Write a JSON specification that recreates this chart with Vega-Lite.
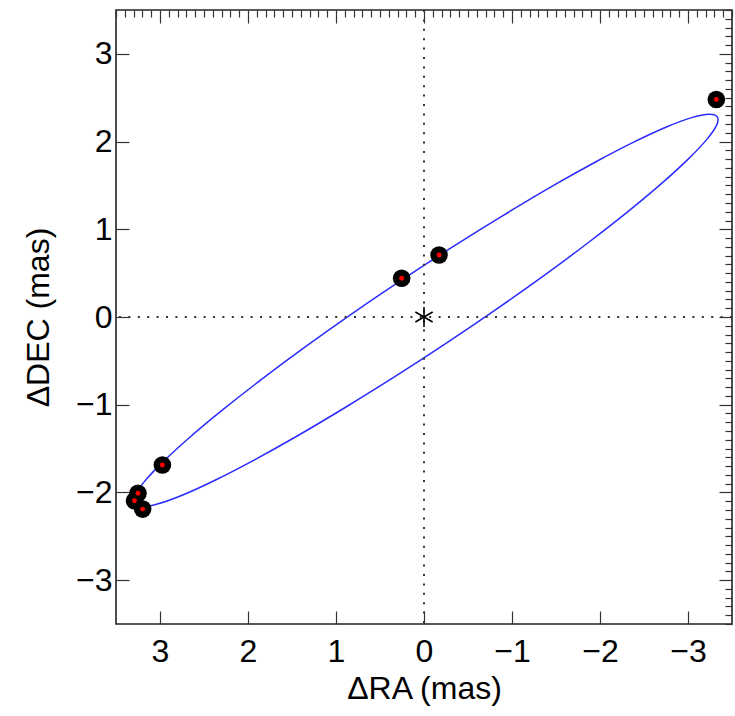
{
  "$schema": "https://vega.github.io/schema/vega-lite/v6.json",
  "width": 616,
  "height": 614,
  "autosize": "none",
  "padding": {"left": 116, "top": 10, "right": 3, "bottom": 92},
  "background": "white",
  "config": {
    "view": {"stroke": "#222", "strokeWidth": 1.6},
    "font": "Liberation Sans",
    "axis": {"domain": false, "grid": false, "labelOverlap": false, "labelFlush": false, "labelColor": "black", "labelFontSize": 32, "titleFontSize": 32, "titleFontWeight": "normal", "titleColor": "black", "tickColor": "#333", "tickWidth": 1.2}
  },
  "datasets": {
    "orbit": [
      {"i": 0, "ra": -3.333, "dec": 2.281}, {"i": 1, "ra": -3.241, "dec": 2.312}, {"i": 2, "ra": -3.041, "dec": 2.273},
      {"i": 3, "ra": -2.755, "dec": 2.166}, {"i": 4, "ra": -2.388, "dec": 1.996}, {"i": 5, "ra": -1.949, "dec": 1.767},
      {"i": 6, "ra": -1.453, "dec": 1.489}, {"i": 7, "ra": -0.911, "dec": 1.165}, {"i": 8, "ra": -0.343, "dec": 0.811},
      {"i": 9, "ra": 0.234, "dec": 0.434}, {"i": 10, "ra": 0.804, "dec": 0.047}, {"i": 11, "ra": 1.35, "dec": -0.341},
      {"i": 12, "ra": 1.854, "dec": -0.717}, {"i": 13, "ra": 2.3, "dec": -1.068}, {"i": 14, "ra": 2.677, "dec": -1.385},
      {"i": 15, "ra": 2.972, "dec": -1.657}, {"i": 16, "ra": 3.178, "dec": -1.877}, {"i": 17, "ra": 3.285, "dec": -2.038},
      {"i": 18, "ra": 3.293, "dec": -2.135}, {"i": 19, "ra": 3.201, "dec": -2.166}, {"i": 20, "ra": 3.011, "dec": -2.127},
      {"i": 21, "ra": 2.728, "dec": -2.023}, {"i": 22, "ra": 2.363, "dec": -1.855}, {"i": 23, "ra": 1.926, "dec": -1.628},
      {"i": 24, "ra": 1.431, "dec": -1.351}, {"i": 25, "ra": 0.891, "dec": -1.029}, {"i": 26, "ra": 0.323, "dec": -0.675},
      {"i": 27, "ra": -0.254, "dec": -0.298}, {"i": 28, "ra": -0.824, "dec": 0.09}, {"i": 29, "ra": -1.37, "dec": 0.477},
      {"i": 30, "ra": -1.876, "dec": 0.855}, {"i": 31, "ra": -2.324, "dec": 1.207}, {"i": 32, "ra": -2.704, "dec": 1.526},
      {"i": 33, "ra": -3.002, "dec": 1.800}, {"i": 34, "ra": -3.212, "dec": 2.022}, {"i": 35, "ra": -3.324, "dec": 2.184}
    ],
    "obs": [
      {"ra": -3.322, "dec": 2.48}, {"ra": 0.254, "dec": 0.441}, {"ra": -0.171, "dec": 0.707},
      {"ra": 2.973, "dec": -1.688}, {"ra": 3.25, "dec": -2.01}, {"ra": 3.29, "dec": -2.095}, {"ra": 3.197, "dec": -2.19}
    ],
    "origin": [{"ra": 0, "dec": 0}]
  },
  "resolve": {"axis": {"x": "independent", "y": "independent"}},
  "layer": [
    {
      "data": {"name": "orbit"},
      "mark": {"type": "line", "interpolate": "cardinal-closed", "color": "#2b2bff", "strokeWidth": 1.5},
      "encoding": {
        "order": {"field": "i", "type": "quantitative"},
        "x": {"field": "ra", "type": "quantitative",
          "scale": {"domain": [-3.5, 3.5], "reverse": true, "nice": false, "zero": false},
          "axis": {"orient": "bottom", "title": "ΔRA (mas)", "tickCount": 70, "format": "d",
            "labelExpr": "abs(datum.value - round(datum.value)) < 0.001 ? datum.label : ''",
            "tickSize": {"condition": {"test": "abs(datum.value - round(datum.value)) < 0.001", "value": -13}, "value": -7},
            "labelPadding": 25, "titlePadding": 6}},
        "y": {"field": "dec", "type": "quantitative",
          "scale": {"domain": [-3.5, 3.5], "nice": false, "zero": false},
          "axis": {"orient": "left", "title": "ΔDEC (mas)", "tickCount": 70, "format": "d",
            "labelExpr": "abs(datum.value - round(datum.value)) < 0.001 ? datum.label : ''",
            "tickSize": {"condition": {"test": "abs(datum.value - round(datum.value)) < 0.001", "value": -13}, "value": -7},
            "labelPadding": 17, "titlePadding": 20}}
      }
    },
    {
      "data": {"name": "obs"},
      "mark": {"type": "point", "shape": "circle", "filled": true, "color": "black", "size": 310, "opacity": 1},
      "encoding": {
        "x": {"field": "ra", "type": "quantitative",
          "axis": {"orient": "top", "title": null, "labels": false, "tickCount": 70,
            "tickSize": {"condition": {"test": "abs(datum.value - round(datum.value)) < 0.001", "value": -13}, "value": -7}}},
        "y": {"field": "dec", "type": "quantitative",
          "axis": {"orient": "right", "title": null, "labels": false, "tickCount": 70,
            "tickSize": {"condition": {"test": "abs(datum.value - round(datum.value)) < 0.001", "value": -13}, "value": -7}}}
      }
    },
    {
      "data": {"name": "origin"},
      "mark": {"type": "rule", "color": "#333", "strokeWidth": 2, "strokeDash": [2, 7.4]},
      "encoding": {"x": {"field": "ra", "type": "quantitative", "axis": null}}
    },
    {
      "data": {"name": "origin"},
      "mark": {"type": "rule", "color": "#333", "strokeWidth": 2, "strokeDash": [2, 7.4]},
      "encoding": {"y": {"field": "dec", "type": "quantitative", "axis": null}}
    },
    {
      "data": {"name": "obs"},
      "mark": {"type": "point", "shape": "circle", "filled": true, "color": "#ff0000", "size": 24, "opacity": 1},
      "encoding": {
        "x": {"field": "ra", "type": "quantitative", "axis": null},
        "y": {"field": "dec", "type": "quantitative", "axis": null}
      }
    },
    {
      "data": {"name": "origin"},
      "mark": {"type": "point", "shape": "M0,-1L0,1M-0.866,-0.5L0.866,0.5M-0.866,0.5L0.866,-0.5", "filled": false, "color": "black", "strokeWidth": 1.6, "size": 400, "opacity": 1},
      "encoding": {
        "x": {"field": "ra", "type": "quantitative", "axis": null},
        "y": {"field": "dec", "type": "quantitative", "axis": null}
      }
    }
  ]
}
